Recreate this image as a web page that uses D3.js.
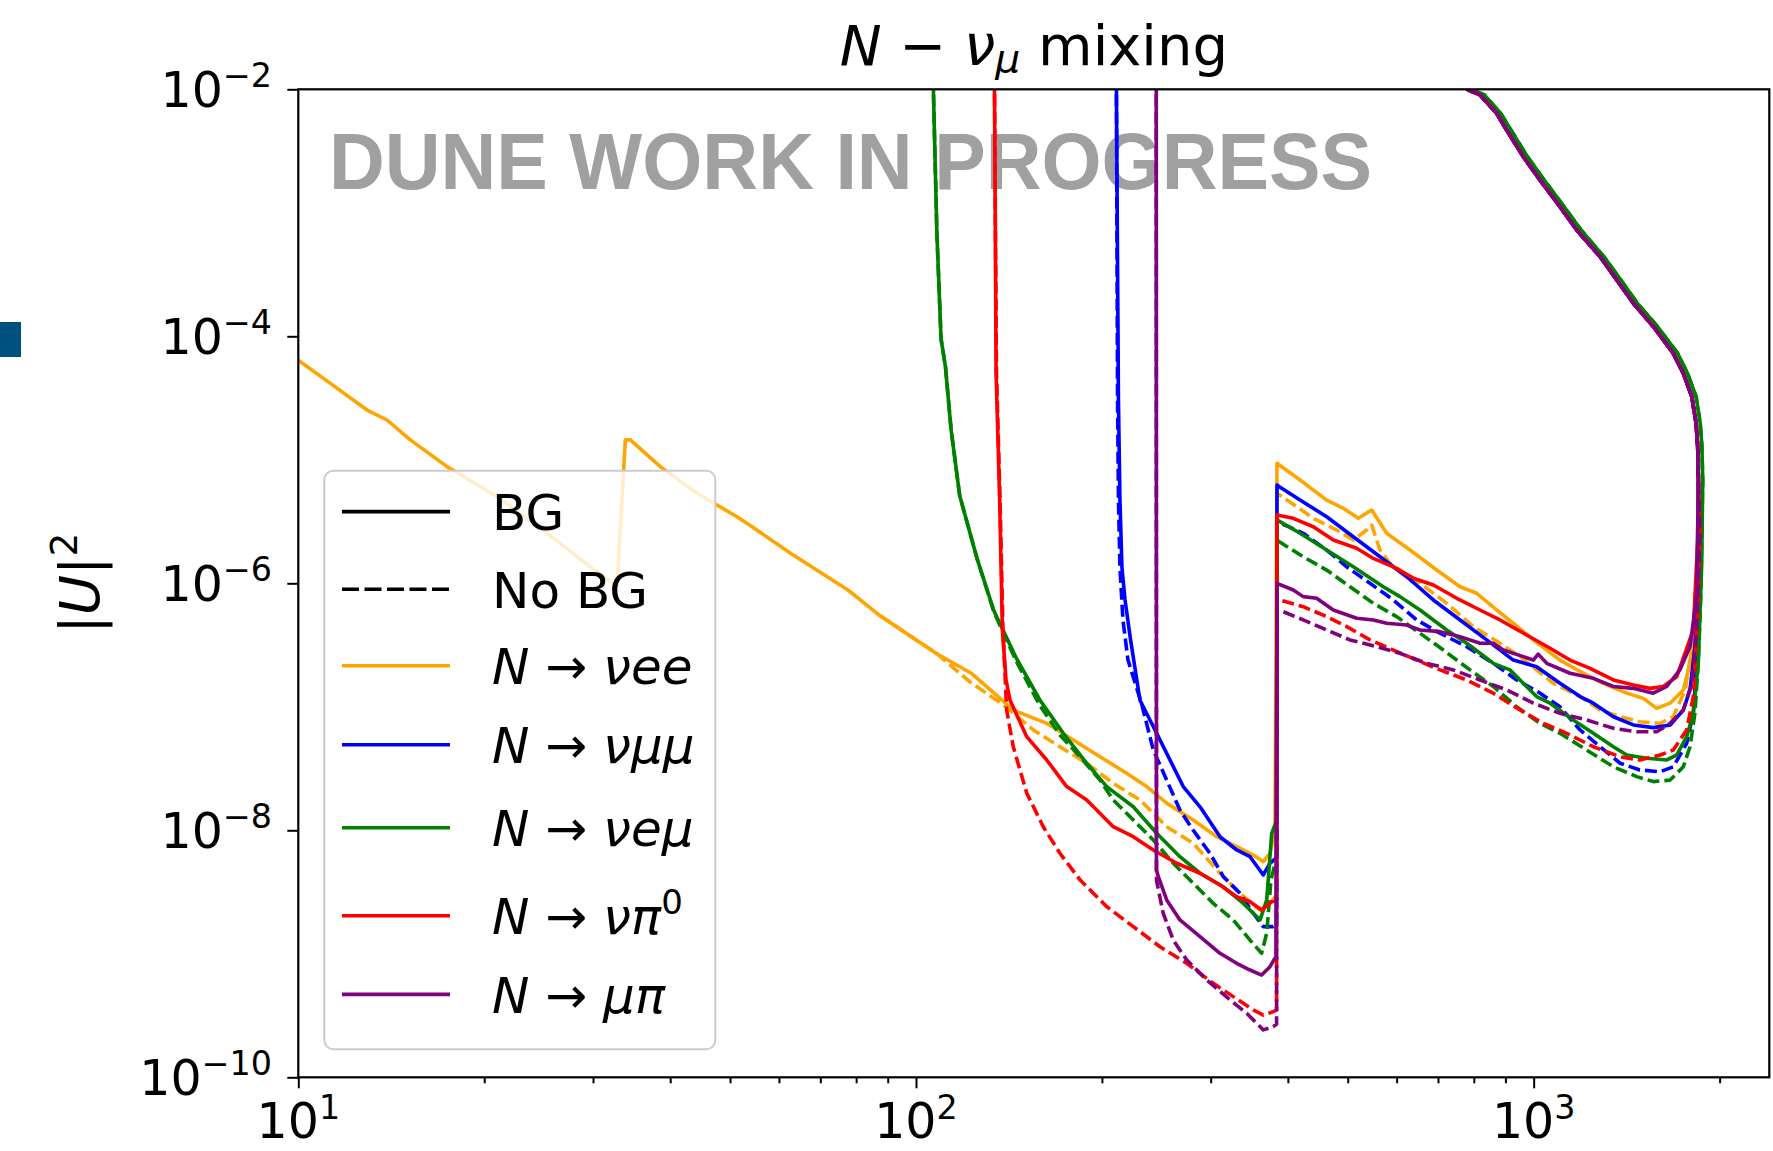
<!DOCTYPE html>
<html>
<head>
<meta charset="utf-8">
<script src="https://cdn.jsdelivr.net/npm/d3@7"></script>
<style>
  html, body { margin: 0; padding: 0; background: #fff; }
  svg { display: block; }
</style>
</head>
<body>
<svg id="chart" width="1773" height="1151"></svg>
<script>
// all points are [mass (MeV), |U|^2]

// upper edge shared by most channels (from the high-mass corner back up to the top)
const upperEdge = [
  [1848, 6.9e-6], [1843, 1.28e-5], [1832, 1.98e-5], [1803, 3.25e-5], [1747, 5.01e-5],
  [1683, 7.28e-5], [1562, 1.20e-4], [1450, 1.85e-4], [1363, 2.86e-4], [1281, 4.41e-4],
  [1174, 7.26e-4], [1103, 1.12e-3], [1024, 1.84e-3], [962, 2.85e-3], [904, 4.68e-3],
  [871, 6.39e-3], [819, 9.0e-3], [784, 9.87e-3], [746, 1.19e-2]
];
// N -> nu e mu sits a little outside the others
const upperEdgeEmu = [
  [1878, 6.9e-6], [1872, 1.3e-5], [1860, 2.0e-5], [1832, 3.25e-5], [1775, 5.0e-5],
  [1710, 7.3e-5], [1586, 1.2e-4], [1472, 1.85e-4], [1384, 2.86e-4], [1300, 4.4e-4],
  [1192, 7.3e-4], [1120, 1.12e-3], [1040, 1.84e-3], [977, 2.85e-3], [918, 4.7e-3],
  [884, 6.4e-3], [832, 9.0e-3], [796, 9.9e-3], [757, 1.19e-2]
];

const nueeBG = [
  [10, 6.4e-5], [11.27, 4.16e-5], [12.92, 2.53e-5], [13.92, 2.10e-5], [15.18, 1.45e-5],
  [17.41, 8.8e-6], [20.98, 5.02e-6], [25.27, 2.55e-6], [29.70, 1.36e-6], [32.81, 9.4e-7],
  [33.84, 1.45e-5], [34.48, 1.45e-5], [38.55, 8.8e-6], [44.21, 5.36e-6], [51.3, 3.46e-6],
  [53.25, 3.06e-6], [62.9, 1.73e-6], [77.6, 8.83e-7], [87.4, 5.48e-7], [97.2, 3.83e-7],
  [108.1, 2.69e-7], [122.7, 1.88e-7], [134.8, 1.25e-7], [143.7, 9.42e-8], [162.8, 7.35e-8],
  [179.7, 5.38e-8], [198.6, 3.94e-8], [219.3, 2.90e-8], [236.3, 2.26e-8], [254.6, 1.66e-8],
  [281.1, 1.21e-8], [306.8, 8.87e-9], [330.5, 7.37e-9], [351.6, 6.31e-9], [365.0, 5.57e-9],
  [374.2, 6.51e-9], [381.2, 1.0e-8], [384.1, 9.37e-6], [418.6, 6.86e-6], [462.2, 4.72e-6],
  [491.8, 4.05e-6], [520.1, 3.36e-6], [546.8, 3.92e-6], [578.1, 2.54e-6], [630.6, 1.86e-6],
  [696.6, 1.28e-6], [760.0, 9.38e-7], [808.8, 8.3e-7], [871.1, 6.08e-7], [926.8, 4.75e-7],
  [998.6, 3.48e-7], [1103, 2.39e-7], [1203, 1.87e-7], [1296, 1.55e-7], [1415, 1.29e-7],
  [1505, 1.17e-7], [1582, 9.72e-8], [1663, 1.07e-7], [1747, 1.37e-7], [1791, 2.26e-7],
  [1836, 7.8e-7]
];
const nueeNoBG = [
  [87.4, 5.48e-7], [108.1, 2.69e-7], [122.3, 1.59e-7], [138.4, 1.04e-7], [154.9, 6.49e-8],
  [171.0, 4.75e-8], [189.0, 3.49e-8], [208.6, 2.40e-8], [230.5, 1.76e-8], [254.6, 1.07e-8],
  [281.1, 7.85e-9], [310.6, 4.49e-9], [334.6, 3.09e-9], [360.6, 2.26e-9], [374.2, 2.56e-9],
  [383.3, 3.0e-9], [384.1, 5.36e-6], [413.5, 4.17e-6], [439.8, 3.36e-6], [479.8, 2.70e-6],
  [510.5, 2.24e-6], [536.7, 2.70e-6], [546.8, 2.96e-6], [563.9, 1.86e-6], [585.4, 1.45e-6],
  [654.6, 1.0e-6], [723.1, 6.89e-7], [798.7, 4.46e-7], [882.0, 3.27e-7], [950.4, 2.55e-7],
  [1076, 1.55e-7], [1189, 1.21e-7], [1281, 9.42e-8], [1380, 8.31e-8], [1486, 7.57e-8],
  [1602, 7.35e-8], [1683, 8.31e-8], [1759, 1.37e-7], [1811, 3.48e-7], [1845, 2.24e-6]
];

const numumuBG = [
  [211.1, 1.7e-2], [211.1, 1e-2], [212.7, 3.05e-5], [213.9, 4.72e-6], [215.5, 1.34e-6],
  [218.0, 7.33e-7], [222.5, 3.51e-7], [230.5, 1.13e-7], [245.3, 6.10e-8], [270.8, 2.26e-8],
  [288.3, 1.55e-8], [310.6, 8.87e-9], [330.5, 6.93e-9], [347.4, 6.11e-9], [365.0, 4.35e-9],
  [374.2, 5.41e-9], [383.5, 6e-9], [384.1, 6.25e-6], [387.5, 6.05e-6], [418.6, 4.72e-6],
  [462.2, 3.46e-6], [510.5, 2.38e-6], [563.9, 1.64e-6], [622.9, 1.13e-6], [688.0, 7.33e-7],
  [760.0, 5.05e-7], [839.3, 3.48e-7], [926.8, 2.39e-7], [1011, 2.11e-7], [1103, 1.55e-7],
  [1189, 1.21e-7], [1249, 1.07e-7], [1346, 8.31e-8], [1450, 7.13e-8], [1562, 6.78e-8],
  [1663, 7.13e-8], [1747, 9.42e-8], [1791, 1.37e-7], [1824, 3.07e-7], [1847, 1.06e-6]
];
const numumuNoBG = [
  [211.1, 1.7e-2], [211.1, 1e-2], [212.0, 3.05e-5], [212.7, 4.72e-6], [213.9, 1.34e-6],
  [216.3, 5.05e-7], [220.4, 2.39e-7], [232.1, 1.04e-7], [242.2, 4.47e-8], [254.6, 2.55e-8],
  [267.5, 1.46e-8], [281.1, 1.0e-8], [299.1, 6.52e-9], [314.5, 4.21e-9], [334.6, 3.09e-9],
  [351.6, 2.13e-9], [365.0, 1.66e-9], [378.8, 1.66e-9], [383.5, 1.7e-9], [384.1, 3.16e-6],
  [423.6, 2.54e-6], [462.2, 1.86e-6], [498.1, 1.36e-6], [543.3, 1.0e-6], [592.6, 7.33e-7],
  [646.6, 5.05e-7], [705.2, 3.94e-7], [779.1, 3.07e-7], [860.2, 2.25e-7], [938.7, 1.65e-7],
  [1024, 1.29e-7], [1103, 1.0e-7], [1189, 6.49e-8], [1281, 4.75e-8], [1380, 3.49e-8],
  [1486, 3.08e-8], [1602, 2.98e-8], [1683, 3.27e-8], [1769, 5.06e-8], [1813, 8.85e-8],
  [1836, 2.25e-7], [1858, 1.45e-6]
];

const nuemuBG = [
  [106.5, 1.7e-2], [106.7, 1.0e-2], [108.1, 6.85e-4], [109.8, 9.5e-5], [111.6, 5.68e-5],
  [114.0, 1.74e-5], [117.7, 5.12e-6], [125.5, 1.60e-6], [133.7, 6.0e-7], [145.5, 2.45e-7],
  [158.8, 1.13e-7], [173.2, 6.10e-8], [189.0, 3.49e-8], [203.6, 2.26e-8], [224.8, 1.55e-8],
  [245.3, 9.46e-9], [267.5, 6.11e-9], [288.3, 4.49e-9], [314.5, 3.49e-9], [338.8, 2.56e-9],
  [360.6, 1.88e-9], [369.7, 2.73e-9], [376.6, 9.46e-9], [383.5, 1.2e-8], [384.1, 3.26e-6],
  [418.6, 2.54e-6], [462.2, 1.86e-6], [510.5, 1.36e-6], [570.9, 9.38e-7], [607.5, 7.80e-7],
  [654.6, 6.08e-7], [723.1, 4.19e-7], [779.1, 3.27e-7], [860.2, 2.25e-7], [915.4, 1.99e-7],
  [1011, 1.21e-7], [1063, 1.07e-7], [1159, 7.82e-8], [1249, 6.10e-8], [1346, 4.75e-8],
  [1415, 4.07e-8], [1524, 3.83e-8], [1642, 3.71e-8], [1704, 4.07e-8], [1769, 5.73e-8],
  [1813, 8.85e-8], [1847, 2.25e-7], [1871, 1.45e-6]
];
const nuemuNoBG = [
  [106.5, 1.7e-2], [106.7, 1.0e-2], [108.1, 6.85e-4], [109.8, 9.5e-5], [111.6, 5.68e-5],
  [114.0, 1.74e-5], [117.7, 5.12e-6], [125.5, 1.60e-6], [133.7, 5.86e-7], [145.5, 2.31e-7],
  [158.8, 1.02e-7], [171.0, 5.92e-8], [184.3, 3.94e-8], [198.6, 2.55e-8], [208.6, 1.76e-8],
  [224.8, 1.21e-8], [242.2, 8.35e-9], [261.0, 5.41e-9], [281.1, 3.72e-9], [302.9, 2.56e-9],
  [326.3, 1.88e-9], [347.4, 1.29e-9], [362.7, 1.01e-9], [369.7, 1.47e-9], [375.6, 3.97e-9],
  [383.5, 6e-9], [384.1, 2.24e-6], [387.5, 2.17e-6], [423.6, 1.64e-6], [462.2, 1.28e-6],
  [504.2, 9.38e-7], [550.1, 6.89e-7], [600.1, 5.37e-7], [654.6, 3.94e-7], [714.1, 2.88e-7],
  [788.7, 1.99e-7], [860.2, 1.46e-7], [938.7, 1.0e-7], [1024, 7.35e-8], [1103, 6.10e-8],
  [1218, 4.47e-8], [1346, 3.27e-8], [1468, 2.72e-8], [1562, 2.48e-8], [1663, 2.55e-8],
  [1747, 3.27e-8], [1791, 4.75e-8], [1824, 8.85e-8], [1847, 2.25e-7], [1864, 7.80e-7]
];

const nupi0BG = [
  [133.9, 1.7e-2], [134.0, 1e-2], [134.8, 5.05e-5], [136.6, 4.72e-6], [138.0, 4.19e-7],
  [139.9, 1.65e-7], [142.0, 1.13e-7], [151.1, 5.73e-8], [162.8, 3.71e-8], [175.4, 2.26e-8],
  [189.0, 1.76e-8], [208.6, 1.07e-8], [224.8, 8.87e-9], [242.2, 6.93e-9], [264.3, 5.41e-9],
  [288.3, 4.49e-9], [310.6, 3.61e-9], [330.5, 2.90e-9], [347.4, 2.64e-9], [362.7, 2.26e-9],
  [376.6, 2.64e-9], [383.5, 2.7e-9], [384.1, 3.57e-6], [408.1, 3.36e-6], [439.8, 2.87e-6],
  [473.8, 2.24e-6], [516.9, 1.92e-6], [550.1, 1.59e-6], [592.6, 1.36e-6], [638.5, 1.10e-6],
  [688.0, 9.68e-7], [750.8, 7.56e-7], [818.7, 6.08e-7], [882.0, 5.05e-7], [974.3, 3.81e-7],
  [1063, 2.98e-7], [1145, 2.39e-7], [1234, 2.05e-7], [1346, 1.65e-7], [1450, 1.50e-7],
  [1543, 1.41e-7], [1621, 1.46e-7], [1704, 1.75e-7], [1813, 4.19e-7], [1847, 2.70e-6]
];
const nupi0NoBG = [
  [133.9, 1.7e-2], [134.0, 1e-2], [135.0, 5.05e-5], [136.8, 4.72e-6], [138.3, 4.19e-7],
  [140.2, 9.42e-8], [143.7, 4.75e-8], [151.1, 2.0e-8], [160.7, 1.07e-8], [171.0, 6.52e-9],
  [184.3, 3.97e-9], [203.6, 2.41e-9], [224.8, 1.66e-9], [248.3, 1.14e-9], [274.2, 8.38e-10],
  [302.9, 5.77e-10], [326.3, 4.50e-10], [351.6, 3.51e-10], [365.0, 3.19e-10], [378.8, 3.40e-10],
  [383.5, 3.5e-10], [384.1, 7.4e-7], [387.5, 7.33e-7], [423.6, 6.47e-7], [462.2, 5.37e-7],
  [498.1, 4.46e-7], [543.3, 3.48e-7], [592.6, 2.88e-7], [646.6, 2.39e-7], [705.2, 1.99e-7],
  [779.1, 1.65e-7], [860.2, 1.29e-7], [950.4, 9.42e-8], [1037, 7.35e-8], [1131, 6.10e-8],
  [1249, 4.75e-8], [1380, 3.94e-8], [1486, 3.71e-8], [1602, 4.07e-8], [1683, 4.47e-8],
  [1769, 6.49e-8], [1813, 1.21e-7], [1847, 7.80e-7], [1858, 2.70e-6]
];

const mupiBG = [
  [244.6, 1.7e-2], [244.9, 1e-2], [245.1, 4.77e-9], [246.8, 4.21e-9], [254.6, 2.73e-9],
  [267.5, 1.88e-9], [288.3, 1.38e-9], [310.6, 1.01e-9], [330.5, 8.38e-10], [347.4, 7.39e-10],
  [362.7, 6.73e-10], [374.2, 7.87e-10], [382.6, 9.48e-10], [384.1, 1.0e-6], [408.1, 8.83e-7],
  [423.6, 7.80e-7], [445.3, 7.57e-7], [473.8, 6.08e-7], [516.9, 5.21e-7], [550.1, 5.05e-7],
  [578.1, 4.75e-7], [622.9, 4.59e-7], [654.6, 4.19e-7], [705.2, 4.06e-7], [760.0, 3.70e-7],
  [818.7, 3.27e-7], [860.2, 3.27e-7], [892.9, 2.88e-7], [962.1, 2.55e-7], [998.6, 2.39e-7],
  [1017, 2.67e-7], [1050, 2.25e-7], [1145, 1.87e-7], [1249, 1.70e-7], [1346, 1.46e-7],
  [1450, 1.41e-7], [1562, 1.29e-7], [1642, 1.46e-7], [1725, 1.99e-7], [1791, 3.07e-7],
  [1836, 7.80e-7]
];
const mupiNoBG = [
  [244.6, 1.7e-2], [244.9, 1e-2], [245.1, 3.95e-9], [251.3, 2.13e-9], [261.0, 1.29e-9],
  [274.2, 8.93e-10], [295.5, 6.15e-10], [322.3, 4.24e-10], [343.1, 3.30e-10], [365.0, 2.42e-10],
  [378.8, 2.57e-10], [383.5, 2.7e-10], [384.1, 6.08e-7], [393.3, 5.89e-7], [423.6, 5.05e-7],
  [462.2, 4.19e-7], [504.2, 3.48e-7], [557.0, 3.07e-7], [607.5, 2.71e-7], [671.1, 2.25e-7],
  [741.3, 1.99e-7], [818.7, 1.65e-7], [904.3, 1.37e-7], [998.6, 1.07e-7], [1103, 8.85e-8],
  [1218, 7.82e-8], [1346, 6.70e-8], [1468, 6.28e-8], [1582, 6.28e-8], [1663, 7.35e-8],
  [1747, 9.42e-8], [1803, 1.55e-7], [1836, 4.19e-7], [1858, 2.70e-6]
];

const xMajorTicks = [10, 100, 1000];
const xMinorTicks = [20, 30, 40, 50, 60, 70, 80, 90, 200, 300, 400, 500, 600, 700, 800, 900, 2000];
const yMajorTicks = [1e-2, 1e-4, 1e-6, 1e-8, 1e-10];

const channelColors = ['orange', 'blue', 'green', 'red', 'purple'];
// legend text as [text, style] pieces: i = italic, n = normal, s = superscript
const channelLabels = [
  [['N', 'i'], [' \u2192 ', 'n'], ['\u03bdee', 'i']],
  [['N', 'i'], [' \u2192 ', 'n'], ['\u03bd\u03bc\u03bc', 'i']],
  [['N', 'i'], [' \u2192 ', 'n'], ['\u03bde\u03bc', 'i']],
  [['N', 'i'], [' \u2192 ', 'n'], ['\u03bd\u03c0', 'i'], ['0', 's']],
  [['N', 'i'], [' \u2192 ', 'n'], ['\u03bc\u03c0', 'i']]
];

const channels = [
  {bg: nueeBG, nobg: nueeNoBG, upper: upperEdge},
  {bg: numumuBG, nobg: numumuNoBG, upper: upperEdge},
  {bg: nuemuBG, nobg: nuemuNoBG, upper: upperEdgeEmu},
  {bg: nupi0BG, nobg: nupi0NoBG, upper: upperEdge},
  {bg: mupiBG, nobg: mupiNoBG, upper: upperEdge}
];

// ---- layout
const plot = {left: 298.3, top: 89.3, right: 1769.3, bottom: 1077.3};
const font = 'DejaVu Sans';
const lineW = 3.6;
const dash = '12,5';

const svg = d3.select('#chart');

const x = d3.scaleLog().domain([10, 2407]).range([plot.left, plot.right]);
const y = d3.scaleLog().domain([1e-10, 1e-2]).range([plot.bottom, plot.top]);

// write a mixed italic / super / subscript label into a <text>
function mathText(sel, pieces, size) {
  let shift = 0;
  pieces.forEach(([t, st]) => {
    let want = 0, fs = size;
    if (st === 's') { want = -0.4 * size; fs = 0.68 * size; }
    if (st === 'b') { want = 0.13 * size; fs = 0.7 * size; }
    sel.append('tspan')
      .attr('dy', want - shift)
      .attr('font-size', fs)
      .attr('font-style', (st === 'i' || st === 'b') ? 'italic' : 'normal')
      .text(t);
    shift = want;
  });
}

// little logo fragment on the left edge
svg.append('rect').attr('x', 0).attr('y', 322).attr('width', 21).attr('height', 35).attr('fill', '#00507f');

svg.append('clipPath').attr('id', 'plotclip')
  .append('rect')
  .attr('x', plot.left).attr('y', plot.top)
  .attr('width', plot.right - plot.left).attr('height', plot.bottom - plot.top);

// watermark
svg.append('text')
  .attr('x', 329).attr('y', 188.5)
  .attr('font-family', 'Liberation Sans, Arial, sans-serif')
  .attr('font-weight', 'bold')
  .attr('font-size', 79)
  .attr('fill', '#a0a0a0')
  .attr('textLength', 1043)
  .attr('lengthAdjust', 'spacingAndGlyphs')
  .text('DUNE WORK IN PROGRESS');

// curves
const line = d3.line().x(d => x(d[0])).y(d => y(d[1]));
const curves = svg.append('g').attr('clip-path', 'url(#plotclip)');
channels.forEach((c, i) => {
  curves.append('path')
    .attr('d', line(c.bg.concat(c.upper)))
    .attr('fill', 'none')
    .attr('stroke', channelColors[i])
    .attr('stroke-width', lineW)
    .attr('stroke-linejoin', 'round');
  curves.append('path')
    .attr('d', line(c.nobg.concat(c.upper)))
    .attr('fill', 'none')
    .attr('stroke', channelColors[i])
    .attr('stroke-width', lineW)
    .attr('stroke-linejoin', 'round')
    .attr('stroke-dasharray', dash);
});

// axes (ticks only, frame drawn separately)
const xAxis = svg.append('g').attr('transform', `translate(0,${plot.bottom})`);
xAxis.append('g').call(d3.axisBottom(x).tickValues(xMajorTicks).tickSize(11).tickFormat(''));
xAxis.append('g').call(d3.axisBottom(x).tickValues(xMinorTicks).tickSize(6).tickFormat(''));
const yAxis = svg.append('g').attr('transform', `translate(${plot.left},0)`);
yAxis.call(d3.axisLeft(y).tickValues(yMajorTicks).tickSize(11).tickFormat(''));
svg.selectAll('.domain').remove();
svg.selectAll('.tick line').attr('stroke', '#000').attr('stroke-width', 2);

svg.append('rect')
  .attr('x', plot.left).attr('y', plot.top)
  .attr('width', plot.right - plot.left).attr('height', plot.bottom - plot.top)
  .attr('fill', 'none').attr('stroke', '#000').attr('stroke-width', 2.2);

// tick labels 10^k
const tickSize = 49;
xMajorTicks.forEach(v => {
  const t = svg.append('text')
    .attr('x', x(v)).attr('y', plot.bottom + 61)
    .attr('text-anchor', 'middle')
    .attr('font-family', font).attr('font-size', tickSize);
  mathText(t, [['10', 'n'], [String(Math.round(Math.log10(v))), 's']], tickSize);
});
yMajorTicks.forEach(v => {
  const t = svg.append('text')
    .attr('x', 272).attr('y', y(v) + 17.5)
    .attr('text-anchor', 'end')
    .attr('font-family', font).attr('font-size', tickSize);
  mathText(t, [['10', 'n'], ['\u2212' + Math.abs(Math.round(Math.log10(v))), 's']], tickSize);
});

// title
const title = svg.append('text')
  .attr('x', (plot.left + plot.right) / 2).attr('y', 65)
  .attr('text-anchor', 'middle')
  .attr('font-family', font).attr('font-size', 56);
mathText(title, [['N', 'i'], [' \u2212 ', 'n'], ['\u03bd', 'i'], ['\u03bc', 'b'], [' mixing', 'n']], 56);

// y label |U|^2
const ylab = svg.append('text')
  .attr('transform', `translate(99,${(plot.top + plot.bottom) / 2}) rotate(-90)`)
  .attr('text-anchor', 'middle')
  .attr('font-family', font).attr('font-size', 55);
mathText(ylab, [['|', 'n'], ['U', 'i'], ['|', 'n'], ['2', 's']], 55);

// legend
const legend = svg.append('g');
legend.append('rect')
  .attr('x', 324.3).attr('y', 470.7)
  .attr('width', 391).attr('height', 578.6)
  .attr('rx', 9)
  .attr('fill', '#fff').attr('fill-opacity', 0.8)
  .attr('stroke', '#cccccc').attr('stroke-width', 2);

const legendRows = [511.6, 589.2, 665.8, 744.8, 827.7, 915.8, 994.4];
const legendItems = [
  {color: '#000', dash: null, label: [['BG', 'n']]},
  {color: '#000', dash: '17,5.5', label: [['No BG', 'n']]}
].concat(channelLabels.map((l, i) => ({color: channelColors[i], dash: null, label: l})));

const legendFont = 50;
legendItems.forEach((it, i) => {
  const yy = legendRows[i];
  legend.append('line')
    .attr('x1', 342).attr('x2', 450)
    .attr('y1', yy).attr('y2', yy)
    .attr('stroke', it.color).attr('stroke-width', lineW)
    .attr('stroke-dasharray', it.dash);
  const t = legend.append('text')
    .attr('x', 492).attr('y', yy + 18.5)
    .attr('font-family', font).attr('font-size', legendFont);
  mathText(t, it.label, legendFont);
});
</script>
</body>
</html>
